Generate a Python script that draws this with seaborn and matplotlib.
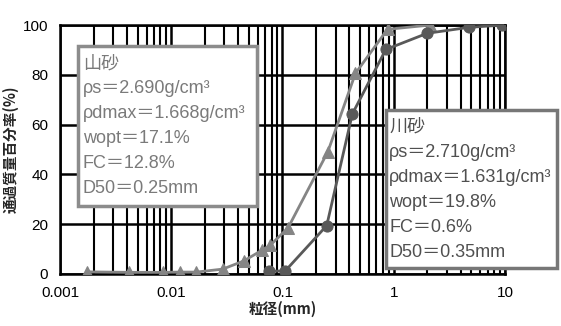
import numpy as np
import pandas as pd
import matplotlib
matplotlib.use("Agg")
import matplotlib.pyplot as plt
import seaborn as sns
from matplotlib.patches import Rectangle
from matplotlib.ticker import LogLocator, MultipleLocator

# 山砂 (triangles)
yama_size = [0.00174, 0.00414, 0.0084, 0.012, 0.0168, 0.029, 0.045, 0.066, 0.078,
             0.112, 0.256, 0.453, 0.88, 2.1]
yama_pass = [0.8, 0.6, 0.6, 0.7, 0.7, 1.9, 5.2, 9.6, 11.6, 18.4, 49.1, 80.6, 98.3, 100.0]

# 川砂 (circles)
kawa_size = [0.075, 0.106, 0.25, 0.425, 0.85, 2.0, 4.75, 9.5]
kawa_pass = [1.0, 1.2, 19.4, 64.3, 90.2, 96.7, 99.1, 100.0]

yama_text = ["山砂", "ρs＝2.690g/cm³", "ρdmax＝1.668g/cm³", "wopt＝17.1%",
             "FC＝12.8%", "D50＝0.25mm"]
kawa_text = ["川砂", "ρs＝2.710g/cm³", "ρdmax＝1.631g/cm³", "wopt＝19.8%",
             "FC＝0.6%", "D50＝0.35mm"]

sns.set_style("white")
plt.rcParams['font.family'] = ['Liberation Sans', 'Noto Sans CJK JP', 'DejaVu Sans']

df_yama = pd.DataFrame({'size': yama_size, 'pass': yama_pass})
df_kawa = pd.DataFrame({'size': kawa_size, 'pass': kawa_pass})

fig = plt.figure(figsize=(5.61, 3.26), dpi=100)
ax = fig.add_axes([0.107, 0.16, 0.793, 0.763])

ax.set_xscale('log')
ax.set_xlim(0.001, 10)
ax.set_ylim(0, 100)

# grid
ax.xaxis.set_major_locator(LogLocator(base=10, numticks=10))
ax.xaxis.set_minor_locator(LogLocator(base=10, subs=np.arange(2, 10), numticks=50))
ax.yaxis.set_major_locator(MultipleLocator(20))
ax.yaxis.set_minor_locator(MultipleLocator(10))
ax.grid(which='major', axis='both', color='black', lw=1.8)
ax.grid(which='minor', axis='x', color='black', lw=1.5)
ax.set_axisbelow(True)
ax.set_xticks([0.001, 0.01, 0.1, 1, 10])
ax.set_xticklabels(['0.001', '0.01', '0.1', '1', '10'])
ax.tick_params(axis='both', which='major', direction='out', length=5, width=1.5,
               labelsize=11, colors='black')
ax.tick_params(axis='both', which='minor', direction='out', length=3, width=1.2)
for s in ax.spines.values():
    s.set_color('black')
    s.set_linewidth(1.8)

sns.lineplot(data=df_yama, x='size', y='pass', ax=ax, color='#858585', lw=2,
             marker='^', markersize=9, markeredgecolor='#858585', zorder=3)
sns.lineplot(data=df_kawa, x='size', y='pass', ax=ax, color='#595959', lw=2,
             marker='o', markersize=8, markeredgecolor='#595959', zorder=3)

ax.set_xlabel('粒径(mm)', fontsize=10.5, fontweight='bold', labelpad=1,
              family=['Noto Sans CJK JP'])
ax.set_ylabel('通過質量百分率(%)', fontsize=10.5, fontweight='bold', labelpad=3,
              family=['Noto Sans CJK JP'])

# info boxes
ax.add_patch(Rectangle((0.04, 0.273), 0.403, 0.643, transform=ax.transAxes,
                       facecolor='white', edgecolor='#8c8c8c', lw=2.5, zorder=5))
ax.add_patch(Rectangle((0.733, 0.024), 0.385, 0.635, transform=ax.transAxes,
                       facecolor='white', edgecolor='#777777', lw=2.5, zorder=5,
                       clip_on=False))
for i, t in enumerate(yama_text):
    ax.text(0.051, 0.845 - i * 0.1, t, transform=ax.transAxes, va='center', ha='left',
            fontsize=13, color='#7a7a7a', zorder=6)
for i, t in enumerate(kawa_text):
    ax.text(0.740, 0.59 - i * 0.101, t, transform=ax.transAxes, va='center', ha='left',
            fontsize=13, color='#505050', zorder=6, clip_on=False)

fig.savefig('out.png', dpi=100)
